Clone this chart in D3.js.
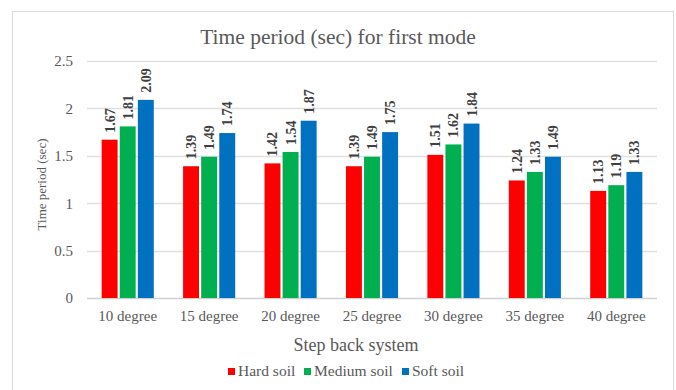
<!DOCTYPE html>
<html>
<head>
<meta charset="utf-8">
<script src="https://cdn.jsdelivr.net/npm/d3@7"></script>
<style>
  body { margin: 0; background: #fff; }
  svg text { font-family: "Liberation Serif", "Tinos", "Times New Roman", Times, "DejaVu Serif", "Noto Serif", serif !important; }
</style>
</head>
<body>
<svg id="chart" width="676" height="390"></svg>
<script>
// chart data
var categories = ["10 degree", "15 degree", "20 degree", "25 degree", "30 degree", "35 degree", "40 degree"];
var seriesNames = ["Hard soil", "Medium soil", "Soft soil"];
var hardSoil   = [1.67, 1.39, 1.42, 1.39, 1.51, 1.24, 1.13];
var mediumSoil = [1.81, 1.49, 1.54, 1.49, 1.62, 1.33, 1.19];
var softSoil   = [2.09, 1.74, 1.87, 1.75, 1.84, 1.49, 1.33];
var yTicks = [0, 0.5, 1, 1.5, 2, 2.5];

var colors = ["#ff0000", "#00b050", "#0070c0"];
var series = [hardSoil, mediumSoil, softSoil];

var svg = d3.select("#chart");

// outer border
svg.append("rect")
    .attr("x", 12.5).attr("y", 11.5)
    .attr("width", 661).attr("height", 390)
    .attr("fill", "#fff")
    .attr("stroke", "#d9d9d9");

var plot = { left: 87, right: 657, top: 61, bottom: 298 };

var x = d3.scaleBand()
    .domain(categories)
    .range([plot.left, plot.right])
    .paddingInner(0.36)
    .paddingOuter(0.18);

var xs = d3.scaleBand()
    .domain(seriesNames)
    .range([0, x.bandwidth()])
    .paddingInner(0.12);

var y = d3.scaleLinear()
    .domain([0, 2.5])
    .range([plot.bottom, plot.top]);

// gridlines
svg.append("g")
    .selectAll("line")
    .data(yTicks)
    .enter()
    .append("line")
    .attr("x1", plot.left)
    .attr("x2", plot.right)
    .attr("y1", function(d) { return Math.round(y(d)) + 0.5; })
    .attr("y2", function(d) { return Math.round(y(d)) + 0.5; })
    .attr("stroke", function(d) { return d === 0 ? "#d0d0d0" : "#e0e0e0"; })
    .attr("stroke-width", 1.3);

// y axis tick labels
var yAxis = d3.axisLeft(y).tickValues(yTicks).tickSize(0).tickPadding(14)
    .tickFormat(function(d) { return d; });
var gy = svg.append("g")
    .attr("transform", "translate(" + plot.left + ",0)")
    .call(yAxis);
gy.select(".domain").remove();
gy.selectAll("text")
    .attr("font-size", 15)
    .attr("fill", "#595959");

// x axis labels
var xAxis = d3.axisBottom(x).tickSize(0).tickPadding(12);
var gx = svg.append("g")
    .attr("transform", "translate(0," + plot.bottom + ")")
    .call(xAxis);
gx.select(".domain").remove();
gx.selectAll("text")
    .attr("font-size", 15)
    .attr("fill", "#595959");

// bars + labels
series.forEach(function(vals, si) {
    var g = svg.append("g");
    g.selectAll("rect")
        .data(vals)
        .enter()
        .append("rect")
        .attr("x", function(d, i) { return x(categories[i]) + xs(seriesNames[si]); })
        .attr("y", function(d) { return y(d); })
        .attr("width", xs.bandwidth())
        .attr("height", function(d) { return y(0) - y(d); })
        .attr("fill", colors[si]);

    g.selectAll("text")
        .data(vals)
        .enter()
        .append("text")
        .attr("transform", function(d, i) {
            var cx = x(categories[i]) + xs(seriesNames[si]) + xs.bandwidth() / 2;
            return "translate(" + (cx + 5) + "," + (y(d) - 7) + ") rotate(-90)";
        })
        .attr("font-size", 14)
        .attr("font-weight", "bold")
        .attr("fill", "#404040")
        .text(function(d) { return d.toFixed(2); });
});

// title
svg.append("text")
    .attr("x", 338).attr("y", 44)
    .attr("text-anchor", "middle")
    .attr("font-size", 21.5)
    .attr("fill", "#595959")
    .text("Time period (sec) for first mode");

// y axis title
svg.append("text")
    .attr("transform", "translate(46," + ((plot.top + plot.bottom) / 2 + 5) + ") rotate(-90)")
    .attr("text-anchor", "middle")
    .attr("font-size", 13)
    .attr("fill", "#595959")
    .text("Time period (sec)");

// x axis title
svg.append("text")
    .attr("x", 356).attr("y", 351)
    .attr("text-anchor", "middle")
    .attr("font-size", 18)
    .attr("fill", "#595959")
    .text("Step back system");

// legend
var legendX = [228, 304, 402];
var legend = svg.append("g")
    .selectAll("g")
    .data(seriesNames)
    .enter()
    .append("g")
    .attr("transform", function(d, i) { return "translate(" + legendX[i] + ",368)"; });
legend.append("rect")
    .attr("width", 7).attr("height", 7)
    .attr("fill", function(d, i) { return colors[i]; });
legend.append("text")
    .attr("x", 10).attr("y", 8)
    .attr("font-size", 15.5)
    .attr("fill", "#595959")
    .text(function(d) { return d; });
</script>
</body>
</html>
